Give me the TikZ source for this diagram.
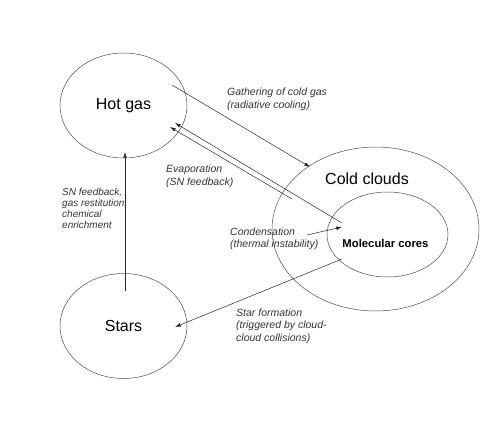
\documentclass[tikz,border=0pt]{standalone}
\usepackage{fontspec}
\setmainfont{Liberation Sans}
\usetikzlibrary{arrows.meta,positioning,shapes.geometric}
\tikzset{
  region/.style={draw=black!70,ellipse,inner sep=0pt,line width=0.5pt},
  bigtxt/.style={font=\fontsize{16}{19}\selectfont},
  note/.style={font=\fontsize{10.5}{12.5}\selectfont\itshape,align=left,anchor=west,inner sep=0pt,text=black!80},
  flow/.style={-{Latex[length=2mm,width=1.3mm]},line width=0.5pt,draw=black!85}
}

\begin{document}
\begin{tikzpicture}[x=1pt,y=-1pt]
\useasboundingbox (0,0) rectangle (491,436);

\node[region,bigtxt,minimum width=127pt,minimum height=105pt] (hot) at (123.5,105.5) {Hot gas};
\node[region,bigtxt,minimum width=127pt,minimum height=105pt,below=115pt of hot] (stars) {Stars};
\node[region,minimum width=207pt,minimum height=164pt] (cold) at (375.5,229) {};
\node[region,minimum width=121pt,minimum height=85pt] (cores) at (387.5,234.5) {};
\node[bigtxt,inner sep=0pt] (coldlbl) at (367,179) {Cold clouds};
\node[font=\fontsize{11.3}{13}\selectfont\bfseries,inner sep=0pt] (coreslbl) at (385.5,243) {Molecular cores};

\node[note] (gather) at (227,99.5) {Gathering of cold gas\\(radiative cooling)};
\node[note] (evap) at (166,176.5) {Evaporation\\(SN feedback)};
\node[note,font=\fontsize{10}{10.8}\selectfont\itshape] (snfb) at (62,208.5) {SN feedback,\\gas restitution,\\chemical\\enrichment};
\node[note] (cond) at (230,239) {Condensation\\(thermal instability)};
\node[note] (starform) at (236,326) {Star formation\\(triggered by cloud-\\cloud collisions)};

\coordinate (gatherA) at (172,85);
\coordinate (gatherB) at (310,167);
\coordinate (evapA) at (342,223);
\coordinate (evapB) at (175,123);
\coordinate (evapC) at (292,199);
\coordinate (evapD) at (170,127);
\coordinate (condA) at (307,235);
\coordinate (condB) at (342,227);
\coordinate (sfA) at (342,259);
\coordinate (sfB) at (175,327);
\coordinate (fbA) at (125,291);
\coordinate (fbB) at (125,152);

\draw[flow] (gatherA) -- (gatherB);
\draw[flow] (evapA) -- (evapB);
\draw[flow] (evapC) -- (evapD);
\draw[flow] (condA) -- (condB);
\draw[flow] (sfA) -- (sfB);
\draw[flow] (fbA) -- (fbB);

\end{tikzpicture}
\end{document}
